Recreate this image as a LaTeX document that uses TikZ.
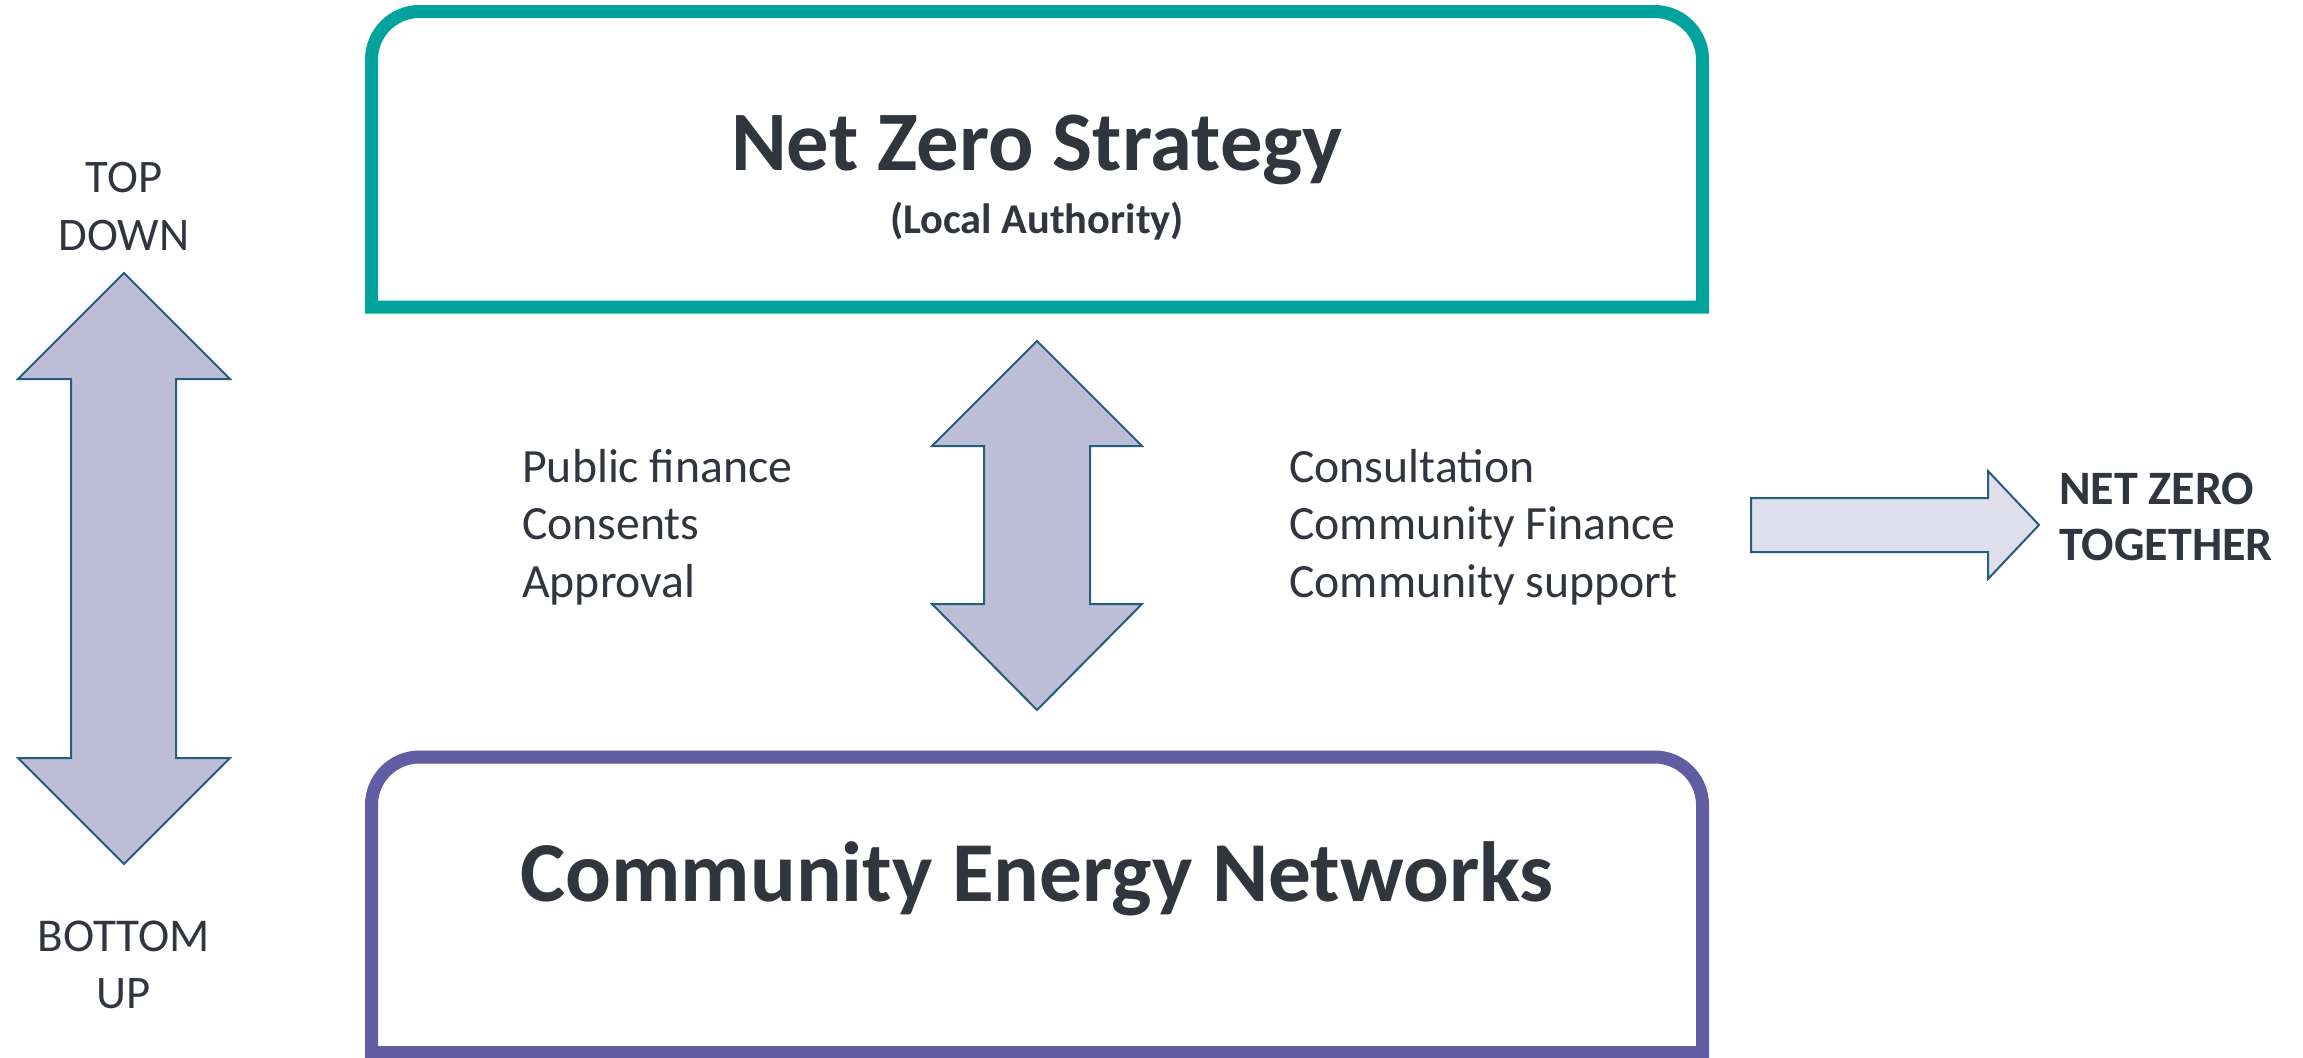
\documentclass[tikz,border=0pt]{standalone}
\usepackage{fontspec}
\setmainfont{Carlito}
\definecolor{teal1}{RGB}{2,163,156}
\definecolor{purp1}{RGB}{96,93,162}
\definecolor{txt}{RGB}{49,53,62}
\definecolor{arfill}{RGB}{189,189,216}
\definecolor{arfill2}{RGB}{222,222,236}
\definecolor{arline}{RGB}{36,94,124}
\begin{document}
\begin{tikzpicture}[x=0.75pt,y=-0.75pt,
  lbl/.style={inner sep=0pt,text=txt,font=\fontsize{35.8}{40}\selectfont},
  lblc/.style={lbl,anchor=base},
  lblw/.style={lbl,anchor=base west},
  arrowshape/.style={fill=arfill,draw=arline,line width=1.5pt,line join=miter},
  boxline/.style={line width=9.75pt,line join=miter}]
\useasboundingbox (0,0) rectangle (2303,1057);
% top box
\draw[boxline,draw=teal1] (371.5,307) -- (371.5,59.5) arc[start angle=180,end angle=270,radius=48]
  -- (1654.5,11.5) arc[start angle=270,end angle=360,radius=48] -- (1702.5,307) -- cycle;
% bottom box
\draw[boxline,draw=purp1] (371.5,1052.5) -- (371.5,805) arc[start angle=180,end angle=270,radius=48]
  -- (1654.5,757) arc[start angle=270,end angle=360,radius=48] -- (1702.5,1052.5) -- cycle;
\node[lblc,font=\fontsize{63.5}{70}\selectfont\bfseries] (nzs) at (1037,170) {Net Zero Strategy};
\node[lblc,font=\fontsize{31.8}{36}\selectfont\bfseries] (la) at (1037,233) {(Local Authority)};
\node[lblc,font=\fontsize{64}{72}\selectfont\bfseries] (cen) at (1037,901) {Community Energy Networks};
% left double arrow
\draw[arrowshape] (124,273) -- (230,379) -- (176,379) -- (176,758) -- (230,758) -- (124,864)
  -- (18,758) -- (71,758) -- (71,379) -- (18,379) -- cycle;
% middle double arrow
\draw[arrowshape] (1037,341) -- (1142,446) -- (1090,446) -- (1090,604) -- (1142,604) -- (1037,710)
  -- (932,604) -- (984,604) -- (984,446) -- (932,446) -- cycle;
% right arrow
\draw[arrowshape,fill=arfill2] (1751,498) -- (1988,498) -- (1988,471) -- (2039,525) -- (1988,579)
  -- (1988,552) -- (1751,552) -- cycle;
\node[lblc,font=\fontsize{35}{40}\selectfont] (top) at (124,192) {TOP};
\node[lblc,font=\fontsize{35}{40}\selectfont] (down) at (124,250) {DOWN};
\node[lblc,font=\fontsize{35.3}{40}\selectfont] (bottom) at (124,951) {BOTTOM};
\node[lblc,font=\fontsize{35}{40}\selectfont] (up) at (124,1008) {UP};
\node[lblw] (pf) at (522,482) {Public finance};
\node[lblw] (cs) at (522,539.5) {Consents};
\node[lblw] (ap) at (522,597) {Approval};
\node[lblw] (co) at (1289,482) {Consultation};
\node[lblw] (cf) at (1289,539.5) {Community Finance};
\node[lblw] (csup) at (1289,597) {Community support};
\node[lblw,font=\fontsize{36}{40}\selectfont\bfseries] (nz) at (2059,504) {NET ZERO};
\node[lblw,font=\fontsize{36}{40}\selectfont\bfseries] (tog) at (2059,560) {TOGETHER};
\end{tikzpicture}
\end{document}
